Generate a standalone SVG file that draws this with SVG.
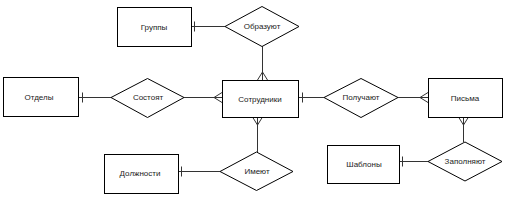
<svg xmlns="http://www.w3.org/2000/svg" width="507" height="203" viewBox="0 0 507 203">
<style>
.ent{fill:#fff;stroke:#000;stroke-width:1}
.rel{fill:#fff;stroke:#000;stroke-width:1}
.ln{fill:none;stroke:#333;stroke-width:1}
text{font-family:"Liberation Sans",Arial,sans-serif;font-size:8px;fill:#222;text-anchor:middle;dominant-baseline:central}
</style>
<rect width="507" height="203" fill="#fff"/>
<g id="connectors">
<path class="ln" d="M191.5,26.5 H225"/>
<path class="ln" d="M194.5,21.5 V31.5"/>
<path class="ln" d="M262.5,46 V80"/>
<path class="ln" d="M257.5,80 L262.5,72 L267.5,80"/>
<path class="ln" d="M79,97.5 H111"/>
<path class="ln" d="M82.5,92.5 V102.5"/>
<path class="ln" d="M184,97.5 H222"/>
<path class="ln" d="M222,92.5 L214,97.5 L222,102.5"/>
<path class="ln" d="M299,97.5 H324"/>
<path class="ln" d="M302.5,92.5 V102.5"/>
<path class="ln" d="M398,97.5 H428"/>
<path class="ln" d="M428,92.5 L420,97.5 L428,102.5"/>
<path class="ln" d="M178,171.5 H220"/>
<path class="ln" d="M181.5,166.5 V176.5"/>
<path class="ln" d="M257.5,152 V117"/>
<path class="ln" d="M252.5,117 L257.5,125 L262.5,117"/>
<path class="ln" d="M399,161.5 H428"/>
<path class="ln" d="M402.5,156.5 V166.5"/>
<path class="ln" d="M463.5,142 V117"/>
<path class="ln" d="M458.5,117 L463.5,125 L468.5,117"/>
</g>
<g id="groups"><rect class="ent" x="117.5" y="7.5" width="74" height="39"/><text x="154" y="27">Группы</text></g>
<g id="obrazuyut"><polygon class="rel" points="225,26.5 262,6.5 299,26.5 262,46.5"/><text x="262" y="26">Образуют</text></g>
<g id="otdely"><rect class="ent" x="3.5" y="77.5" width="75" height="39"/><text x="39" y="97">Отделы</text></g>
<g id="sostoyat"><polygon class="rel" points="111,97.5 147.5,78.5 184,97.5 147.5,117.5"/><text x="148" y="97">Состоят</text></g>
<g id="sotrudniki"><rect class="ent" x="222.5" y="80.5" width="76" height="37"/><text x="260" y="99">Сотрудники</text></g>
<g id="poluchayut"><polygon class="rel" points="324,97.5 361,78.5 398,97.5 361,117.5"/><text x="361" y="97">Получают</text></g>
<g id="pisma"><rect class="ent" x="428.5" y="78.5" width="74" height="39"/><text x="465" y="98">Письма</text></g>
<g id="dolzhnosti"><rect class="ent" x="104.5" y="154.5" width="74" height="39"/><text x="140" y="173">Должности</text></g>
<g id="imeyut"><polygon class="rel" points="220,171.5 256.5,152 293,171.5 256.5,190.5"/><text x="257" y="171">Имеют</text></g>
<g id="shablony"><rect class="ent" x="327.5" y="145.5" width="72" height="38"/><text x="364" y="164">Шаблоны</text></g>
<g id="zapolnyayut"><polygon class="rel" points="428,161.5 465,142 502,161.5 465,181"/><text x="465" y="161">Заполняют</text></g>
</svg>
